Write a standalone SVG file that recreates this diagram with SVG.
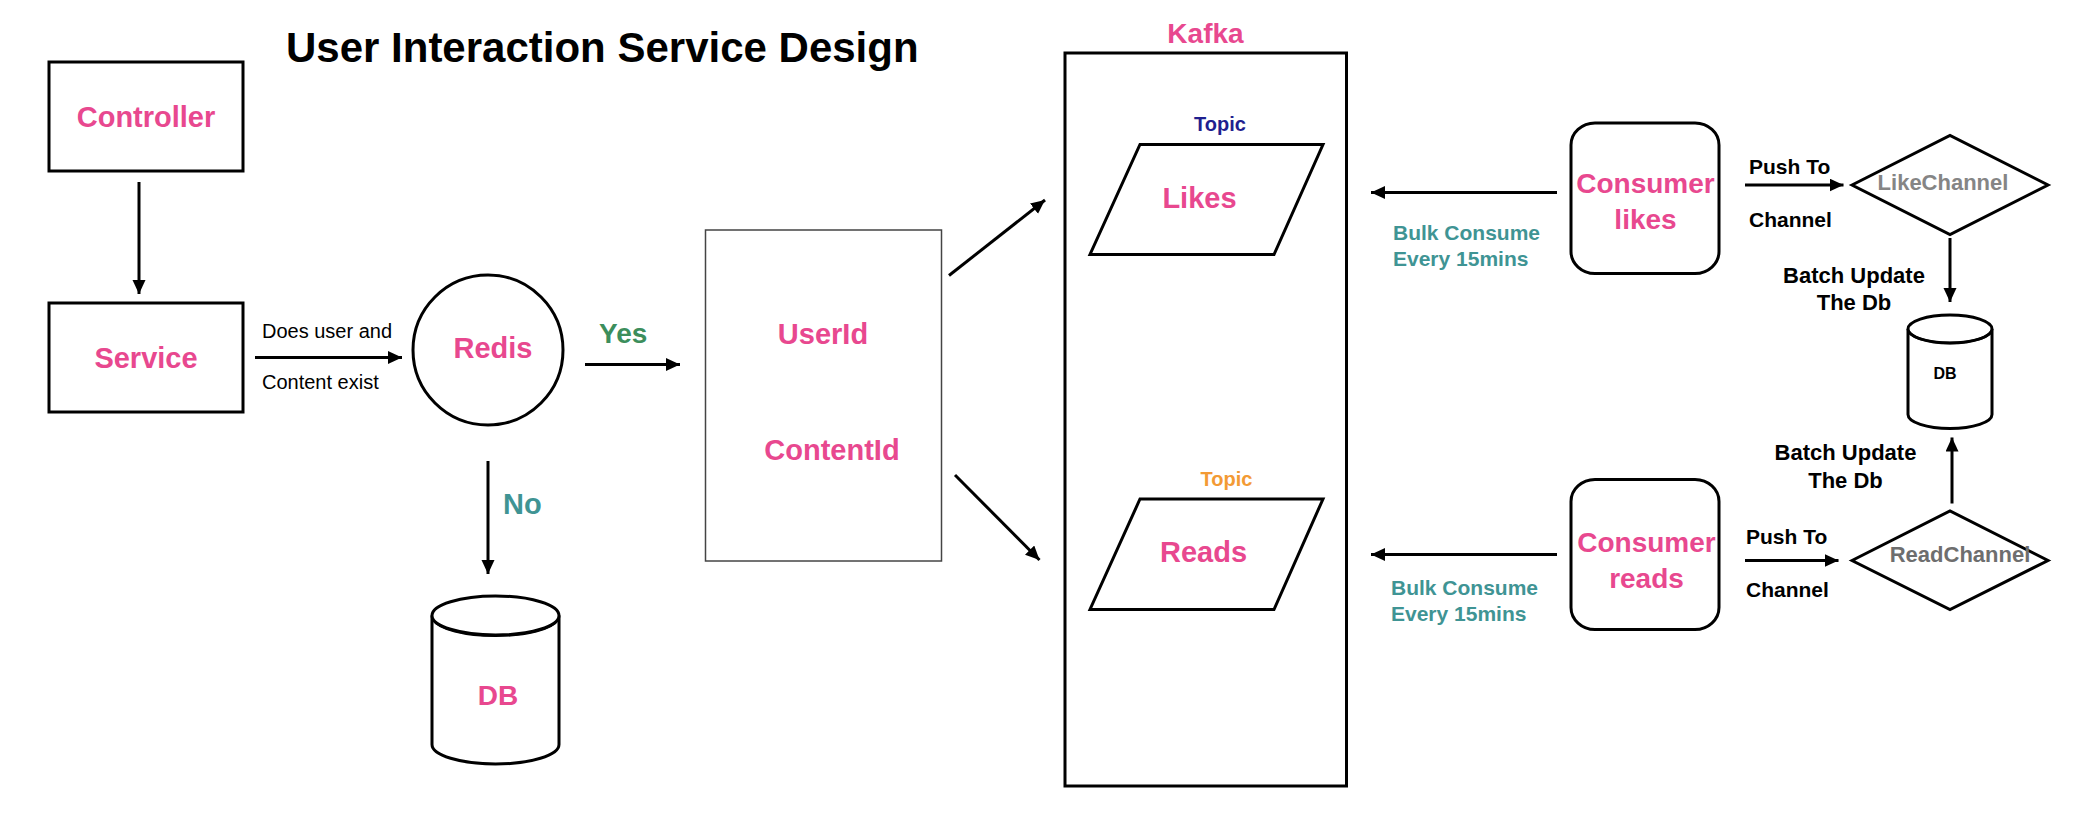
<svg xmlns="http://www.w3.org/2000/svg" width="2088" height="826" viewBox="0 0 2088 826">
<style>
text{font-family:"Liberation Sans",Arial,Helvetica,sans-serif;font-weight:bold}
.pk{fill:#E8488F;font-size:29px;text-anchor:middle}
.tl{fill:#3F9494;font-size:21px}
.bk{fill:#000;font-size:21px}
.reg{font-weight:normal;font-size:20px;fill:#000}
.box{fill:#fff;stroke:#000;stroke-width:3}
.cn{stroke:#000;stroke-width:3;fill:none;marker-end:url(#ah)}
</style>
<defs>
<marker id="ah" markerUnits="userSpaceOnUse" markerWidth="15" markerHeight="14" refX="14" refY="6.5" orient="auto">
<path d="M0,0 L14,6.5 L0,13 z" fill="#000"/>
</marker>
</defs>
<rect width="2088" height="826" fill="#fff"/>
<text x="286" y="62" style="font-size:42px" fill="#000">User Interaction Service Design</text>

<g id="controller">
<rect class="box" x="49" y="62" width="194" height="109"/>
<text class="pk" x="146" y="127">Controller</text>
</g>
<g id="service">
<rect class="box" x="49" y="303" width="194" height="109"/>
<text class="pk" x="146" y="368">Service</text>
</g>
<g id="redis">
<circle class="box" cx="488" cy="350" r="75"/>
<text class="pk" x="493" y="358">Redis</text>
</g>
<g id="db-main">
<path class="box" d="M432,615.5 L432,744.5 A63.5,19.5 0 0 0 559,744.5 L559,615.5"/>
<ellipse class="box" cx="495.5" cy="615.5" rx="63.5" ry="19.5"/>
<path d="M433,620 A63.5,19.5 0 0 0 558,620" fill="none" stroke="#000" stroke-width="2"/>
<text class="pk" x="498" y="705" style="font-size:28px">DB</text>
</g>
<g id="ids">
<rect x="705.5" y="230" width="236" height="331" fill="#fff" stroke="#444" stroke-width="1.5"/>
<text class="pk" x="823" y="344">UserId</text>
<text class="pk" x="832" y="460">ContentId</text>
</g>
<g id="kafka">
<text class="pk" x="1205.5" y="43" style="font-size:28px">Kafka</text>
<rect class="box" x="1065" y="53" width="281.5" height="733"/>
</g>
<g id="topic-likes">
<text x="1220" y="131" style="font-size:20px" fill="#1F1F8F" text-anchor="middle">Topic</text>
<polygon class="box" points="1140,144.5 1323,144.5 1274,254.5 1090,254.5"/>
<text class="pk" x="1199.5" y="208">Likes</text>
</g>
<g id="topic-reads">
<text x="1226.5" y="486" style="font-size:20px" fill="#F39A34" text-anchor="middle">Topic</text>
<polygon class="box" points="1140,499 1323,499 1274,609.5 1090,609.5"/>
<text class="pk" x="1203.5" y="562">Reads</text>
</g>
<g id="consumer-likes">
<rect class="box" x="1571" y="123" width="148" height="150.5" rx="24" ry="22"/>
<text class="pk" x="1645.5" y="193" style="font-size:28px">Consumer</text>
<text class="pk" x="1645.5" y="228.5" style="font-size:28px">likes</text>
</g>
<g id="consumer-reads">
<rect class="box" x="1571" y="479.5" width="148" height="150" rx="24" ry="22"/>
<text class="pk" x="1646.5" y="552" style="font-size:28px">Consumer</text>
<text class="pk" x="1646.5" y="587.5" style="font-size:28px">reads</text>
</g>
<g id="like-channel">
<polygon class="box" points="1852,185 1950,135.5 2048,185 1950,234.5"/>
<text x="1943" y="190" style="font-size:22px" fill="#858585" text-anchor="middle">LikeChannel</text>
</g>
<g id="read-channel">
<polygon class="box" points="1852,560.5 1950,511 2048,560.5 1950,609.5"/>
<text x="1960" y="562" style="font-size:22px" fill="#6E6E6E" text-anchor="middle">ReadChannel</text>
</g>
<g id="db-batch">
<path class="box" d="M1908,329 L1908,414.5 A42,14 0 0 0 1992,414.5 L1992,329"/>
<ellipse class="box" cx="1950" cy="329" rx="42" ry="14"/>
<path d="M1909,332 A42,14 0 0 0 1991,332" fill="none" stroke="#000" stroke-width="2.5"/>
<text x="1945" y="379" style="font-size:16px" fill="#000" text-anchor="middle">DB</text>
</g>

<g id="connectors">
<line class="cn" x1="139" y1="182" x2="139" y2="294"/>
<line class="cn" x1="255" y1="357.5" x2="402" y2="357.5"/>
<line class="cn" x1="585" y1="364.5" x2="680" y2="364.5"/>
<line class="cn" x1="488" y1="461" x2="488" y2="574"/>
<line class="cn" x1="949" y1="275.5" x2="1045" y2="200"/>
<line class="cn" x1="955" y1="475" x2="1039.5" y2="560"/>
<line class="cn" x1="1557" y1="192.5" x2="1371" y2="192.5"/>
<line class="cn" x1="1557" y1="554.5" x2="1371" y2="554.5"/>
<line class="cn" x1="1745" y1="185" x2="1843.5" y2="185"/>
<line class="cn" x1="1745" y1="560.5" x2="1838.5" y2="560.5"/>
<line class="cn" x1="1950" y1="238" x2="1950" y2="302"/>
<line class="cn" x1="1952" y1="503.5" x2="1952" y2="437.5"/>
</g>

<g id="labels">
<text class="reg" x="262" y="338">Does user and</text>
<text class="reg" x="262" y="388.5">Content exist</text>
<text x="599" y="343" style="font-size:28px" fill="#3C8E5C">Yes</text>
<text x="503" y="514" style="font-size:29px" fill="#3F9494">No</text>
<text class="tl" x="1393" y="239.5">Bulk Consume</text>
<text class="tl" x="1393" y="265.5">Every 15mins</text>
<text class="tl" x="1391" y="594.5">Bulk Consume</text>
<text class="tl" x="1391" y="620.5">Every 15mins</text>
<text class="bk" x="1749" y="173.5">Push To</text>
<text class="bk" x="1749" y="227">Channel</text>
<text class="bk" x="1746" y="544">Push To</text>
<text class="bk" x="1746" y="597">Channel</text>
<text class="bk" x="1854" y="283" text-anchor="middle" style="font-size:22px">Batch Update</text>
<text class="bk" x="1854" y="309.5" text-anchor="middle" style="font-size:22px">The Db</text>
<text class="bk" x="1845.5" y="460" text-anchor="middle" style="font-size:22px">Batch Update</text>
<text class="bk" x="1845.5" y="487.5" text-anchor="middle" style="font-size:22px">The Db</text>
</g>
</svg>
